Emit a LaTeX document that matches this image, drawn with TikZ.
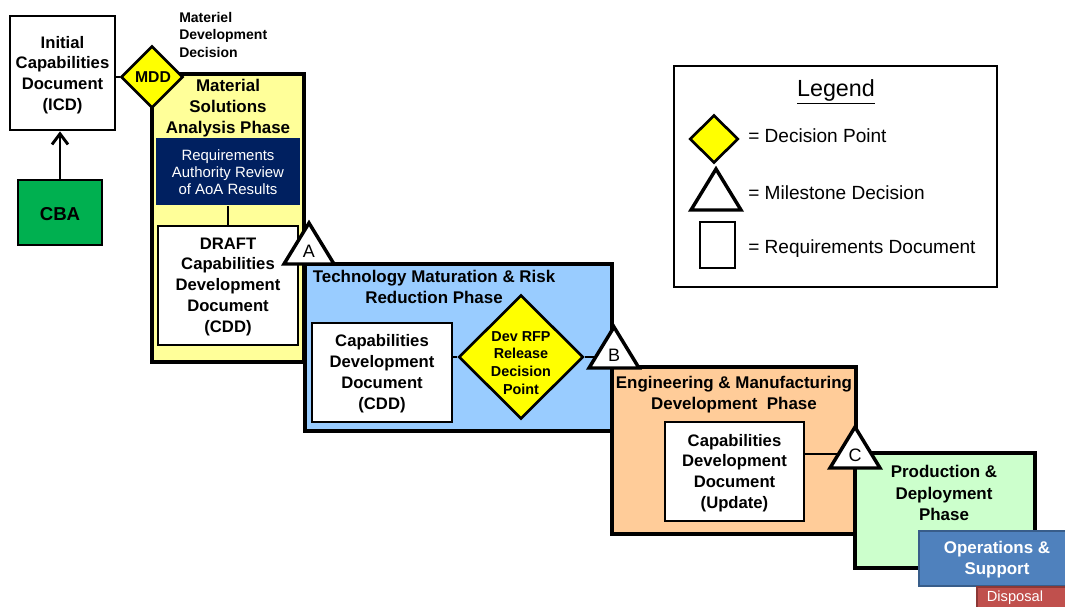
\documentclass[tikz,border=0pt]{standalone}
\usepackage{fontspec}
\setmainfont{Liberation Sans}
\usetikzlibrary{fit,shapes.geometric,arrows.meta}

\definecolor{msaFill}{HTML}{FFFF99}
\definecolor{tmrrFill}{HTML}{99CCFF}
\definecolor{emdFill}{HTML}{FFCC99}
\definecolor{pdFill}{HTML}{CCFFCC}
\definecolor{decYellow}{HTML}{FFFF00}
\definecolor{navyFill}{HTML}{002060}
\definecolor{cbaGreen}{HTML}{00B050}
\definecolor{osFill}{HTML}{4F81BD}
\definecolor{osLine}{HTML}{385D8A}
\definecolor{dispFill}{HTML}{C0504D}
\definecolor{dispLine}{HTML}{8C3836}

% triangle milestone drawn around the letter node #1
\newcommand\milestoneTri[1]{%
  \draw[mstone] ([shift={(-25,14)}]#1.center) -- ([shift={(0,-27)}]#1.center)
    -- ([shift={(25,14)}]#1.center) -- cycle;}

\begin{document}
\begin{tikzpicture}[x=0.75pt,y=-0.75pt,
  box/.style={draw=black, line width=2pt, inner sep=0pt, align=center},
  phasebox/.style={box, line width=2.3pt},
  docbox/.style={box, fill=white, line width=1.6pt},
  doctext/.style={align=center, inner sep=0pt,
    font={\fontsize{12.5}{15.6}\selectfont\bfseries}},
  ttl/.style={align=center, inner sep=0pt,
    font={\fontsize{12.7}{15.8}\selectfont\bfseries}},
  decision/.style={diamond, draw=black, line width=2pt, fill=decYellow,
    inner sep=0pt, aspect=1},
  mstone/.style={draw=black, line width=2.6pt, fill=white, line join=miter},
  mletter/.style={inner sep=0pt, font={\fontsize{13.5}{16}\selectfont}},
  conn/.style={draw=black, line width=1.8pt},
  legtext/.style={anchor=west, inner sep=0pt,
    font={\fontsize{14.3}{17}\selectfont}},
]
\clip (0,0) rectangle (1065,607);
\fill[white] (0,0) rectangle (1065,607);

% ---- phase boxes ----
\node[phasebox, fill=msaFill, fit={(152,74) (304,362)}] (msa) {};
\node[phasebox, fill=tmrrFill, fit={(305,264) (612,431)}] (tmrr) {};
\node[phasebox, fill=emdFill, fit={(612,367) (856,534)}] (emd) {};
\node[phasebox, fill=pdFill, fit={(855,453) (1035,568)}] (pd) {};

\node[ttl] (msaT) at (228,108) {Material\\Solutions\\Analysis Phase};
\node[ttl] (tmrrT) at (434,287) {Technology Maturation \& Risk\\Reduction Phase};
\node[ttl] (emdT) at (734,395) {Engineering \& Manufacturing\\Development\ \ Phase};
\node[ttl] (pdT) at (944,493) {Production \&\\Deployment\\Phase};

% ---- sustainment strip ----
\node[draw=osLine, line width=1.8pt, fill=osFill, inner sep=0pt,
  fit={(919,531) (1080,586)}] (os) {};
\node[ttl, text=white] (osT) at (997,560) {Operations \&\\Support};
\node[draw=dispLine, line width=1.2pt, fill=dispFill, inner sep=0pt,
  fit={(977,587) (1080,620)}] (disp) {};
\node[inner sep=0pt, text=white, font={\fontsize{11}{13}\selectfont}]
  (dispT) at (1015,598) {Disposal};

% ---- requirements documents ----
\node[docbox, line width=2pt, fit={(10,16) (115,130)}] (icd) {};
\node[doctext] (icdT) at ([yshift=-1.5pt]icd.center)
  {Initial\\Capabilities\\Document\\(ICD)};
\node[box, fill=cbaGreen, fit={(18,180) (102,245)}] (cba) {};
\node[inner sep=0pt, font={\fontsize{14}{16}\selectfont\bfseries}]
  (cbaT) at ([yshift=-1.2pt]cba.center) {CBA};
\node[box, draw=none, fill=navyFill, fit={(156,138) (300,205)}] (review) {};
\node[align=center, inner sep=0pt, text=white,
  font={\fontsize{11.2}{12.8}\selectfont}] (reviewT) at ([yshift=-0.8pt]review.center)
  {Requirements\\Authority Review\\of AoA Results};
\node[docbox, fit={(158,226) (298,345)}] (draft) {};
\node[doctext] (draftT) at ([yshift=-0.9pt]draft.center)
  {DRAFT\\Capabilities\\Development\\Document\\(CDD)};
\node[docbox, fit={(312,323) (452,422)}] (cdd) {};
\node[doctext] (cddT) at ([yshift=-0.8pt]cdd.center)
  {Capabilities\\Development\\Document\\(CDD)};
\node[docbox, fit={(665,422) (804,521)}] (cddu) {};
\node[doctext] (cdduT) at ([yshift=-1.1pt]cddu.center)
  {Capabilities\\Development\\Document\\(Update)};

% ---- decision points ----
\node[decision, minimum width=46.5pt, minimum height=46.5pt] (mdd) at (152,77) {};
\node[inner sep=0pt, font={\fontsize{11.8}{13}\selectfont\bfseries}] (mddT) at (153,77) {MDD};
\node[anchor=north west, inner sep=0pt, align=left,
  font={\fontsize{10.5}{13.1}\selectfont\bfseries}] (mddNote) at (179,12)
  {Materiel\\Development\\Decision};
\node[decision, minimum width=93.5pt, minimum height=93pt] (rfp) at (521,357) {};
\node[align=center, inner sep=0pt, font={\fontsize{10.8}{13.4}\selectfont\bfseries}]
  (rfpT) at (521,363) {Dev RFP\\Release\\Decision\\Point};

% ---- connectors ----
\draw[conn] (mdd.west -| icd.east) -- (mdd.west);
\draw[conn, line width=2.2pt, -{Straight Barb[length=8pt,width=12pt]}]
  (cba.north) -- (cba.north |- icd.south);
\draw[conn] (review.south) -- (draft.north);
\draw[conn] (cdd.east |- rfp.west) -- (rfp.west);
\node[mletter] (msA) at (309,250) {};
\node[mletter] (msB) at (614,354) {};
\node[mletter] (msC) at (855,454) {};
\draw[conn] (rfp.east) -- (rfp.east -| msB);
\draw[conn] (msC.center -| cddu.east) -- (msC.center);

% ---- milestones ----
\milestoneTri{msA}
\milestoneTri{msB}
\milestoneTri{msC}
\node[mletter] at ([yshift=-1pt]msA) {A};
\node[mletter] at ([yshift=-1pt]msB) {B};
\node[mletter] at ([yshift=-1pt]msC) {C};

% ---- legend ----
\node[box, fill=white, line width=2pt, fit={(674,66) (997,287)}] (legend) {};
\node[inner sep=0pt, font={\fontsize{17.5}{20}\selectfont}] (legT) at (836,92) {\underline{Legend}};
\node[decision, minimum width=36.5pt, minimum height=36pt] (legDec) at (714,139) {};
\node[mletter] (legMs) at (716,196) {};
\milestoneTri{legMs}
\node[box, fill=white, line width=2pt, fit={(700,222) (735,268)}] (legDoc) {};
\node[legtext] (legDecT) at (748,136) {= Decision Point};
\node[legtext] (legMsT) at (748,193) {= Milestone Decision};
\node[legtext] (legDocT) at (748,249) {= Requirements Document};
\end{tikzpicture}
\end{document}
